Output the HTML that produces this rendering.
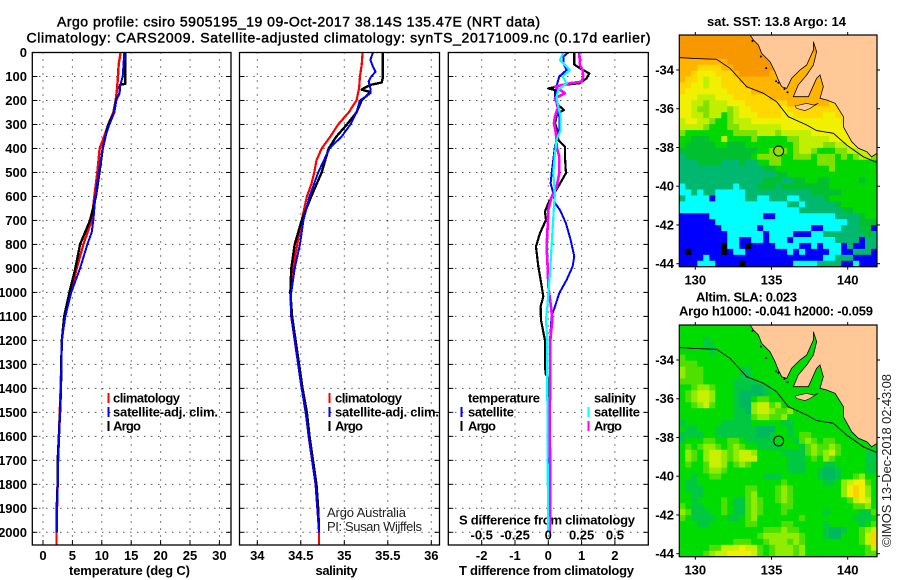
<!DOCTYPE html>
<html>
<head>
<meta charset="utf-8">
<title>Argo profile</title>
<style>
html,body{margin:0;padding:0;background:#fff;}
svg{display:block;}
text{font-family:"Liberation Sans",sans-serif;font-size:13px;font-weight:bold;fill:#000;}
.thin{font-weight:normal;fill:#222;}
.t{font-weight:normal;stroke:#000;stroke-width:.45px;}
</style>
</head>
<body>
<svg id="chart" xmlns="http://www.w3.org/2000/svg" width="900" height="580" viewBox="0 0 900 580">
<rect x="0" y="0" width="900" height="580" fill="#fff"/>
<text class="t" x="57" y="26.5" textLength="483" font-size="14" style="font-size:14px">Argo profile: csiro 5905195_19 09-Oct-2017 38.14S 135.47E (NRT data)</text>
<text class="t" x="26.5" y="42.5" textLength="624" style="font-size:14px">Climatology: CARS2009. Satellite-adjusted climatology: synTS_20171009.nc (0.17d earlier)</text>
<text x="69" y="575" textLength="121">temperature (deg C)</text>
<text x="315.5" y="575" textLength="42">salinity</text>
<text x="459" y="575" textLength="175">T difference from climatology</text>
<text x="459" y="524.5" textLength="176">S difference from climatology</text>
<text class="thin" x="327" y="517" textLength="79">Argo Australia</text>
<text class="thin" x="327" y="531" textLength="95">PI: Susan Wijffels</text>
<text x="707" y="26" textLength="139">sat. SST: 13.8 Argo: 14</text>
<text x="696" y="301.5" textLength="101">Altim. SLA: 0.023</text>
<text x="679" y="315.5" textLength="194">Argo h1000: -0.041 h2000: -0.059</text>
<text class="thin" transform="translate(891,547) rotate(-90)" x="0" y="0" textLength="173">©IMOS 13-Dec-2018 02:43:08</text>
<g id="layer"></g>
</svg>
<script>
// ---------- depth axis ----------
const depthTicks = [0,100,200,300,400,500,600,700,800,900,1000,1100,1200,1300,1400,1500,1600,1700,1800,1900,2000];
const tempTicks = [0,5,10,15,20,25,30];
const salTicks = [34,34.5,35,35.5,36];
const salTickLabels = ["34","34.5","35","35.5","36"];
const diffTTicks = [-2,-1,0,1,2];
const diffSTicks = [-0.5,-0.25,0,0.25,0.5];
const diffSTickLabels = ["-0.5","-0.25","0","0.25","0.5"];
const lonTicks = [130,135,140];
const latTicks = [-34,-36,-38,-40,-42,-44];

// ---------- temperature profiles ----------
const tempClimP = [0,50,100,150,200,250,300,350,400,500,600,700,800,900,1000,1100,1200,1400,1700,2000,2050];
const tempClimV = [13.2,12.87,12.75,12.6,12.36,11.96,11.1,10.4,9.64,9.24,8.73,8.28,6.86,5.73,4.7,3.7,3.2,3.0,2.55,2.3,2.3];
const tempArgoP = [0,100,130,135,170,200,250,300,400,500,600,700,800,900,1000,1100,1200,1300,1400,1500,1600,1700,1800,1900,2000];
const tempArgoV = [14,14,14,13.1,13,12.4,12.1,11.1,10.15,9.6,9,8,6.3,5.5,4.5,3.6,3.2,3.1,3.06,2.9,2.7,2.5,2.5,2.33,2.33];
const tempSatP = [0,50,100,150,170,200,250,300,350,400,500,600,700,750,800,900,1000,1100,1200,1400,1500,1600,1700,1800,1900,2000];
const tempSatV = [13.8,13.7,13.55,13,13,12.47,12.13,11.3,10.6,10.15,9.47,8.9,8.56,8.28,7.54,6.3,4.8,3.8,3.2,3.05,2.9,2.75,2.6,2.5,2.4,2.4];

// ---------- salinity profiles ----------
const salClimP = [0,50,100,150,200,250,300,350,400,450,500,550,600,700,800,900,1000,1100,1200,1300,1400,1500,1600,1700,1800,1900,2000,2050];
const salClimV = [35.21,35.2,35.18,35.17,35.14,35.05,34.93,34.84,34.74,34.68,34.655,34.62,34.57,34.51,34.46,34.41,34.38,34.39,34.43,34.47,34.51,34.56,34.59,34.63,34.67,34.69,34.71,34.71];
const salArgoP = [0,110,125,135,150,155,165,200,250,300,350,400,500,600,700,800,900,1000,1100,1200,1300,1400,1500,1600,1700,1800,1900,2000];
const salArgoV = [35.44,35.44,35.43,35.3,35.22,35.2,35.3,35.2,35.14,35.03,34.91,34.82,34.74,34.62,34.51,34.43,34.39,34.38,34.4,34.44,34.48,34.52,34.57,34.6,34.64,34.68,34.7,34.71];
const salSatP = [0,30,60,80,100,120,150,170,200,250,300,350,400,500,600,700,800,900,1000,1100,1200,1300,1400,1500,1600,1700,1800,1900,2000];
const salSatV = [35.33,35.3,35.33,35.36,35.31,35.28,35.3,35.3,35.18,35.14,35.07,34.97,34.83,34.7,34.6,34.53,34.49,34.43,34.39,34.39,34.43,34.47,34.51,34.555,34.59,34.63,34.67,34.69,34.71];

// ---------- difference profiles ----------
const dTArgoP = [0,50,66,87,108,128,135,150,157,184,219,240,253,295,323,365,392,434,503,559,587,628,663,698,753,809,892,948,1017,1059,1115,1200,1300,1340,1360,2000];
const dTArgoV = [0.78,0.78,0.95,1.23,1.15,0.95,0.45,0,0.2,0.2,0.3,0.47,0.27,0.2,0.27,0.3,0.5,0.5,0.53,0.3,0.17,0,-0.1,-0.07,-0.25,-0.37,-0.3,-0.23,-0.15,-0.23,-0.22,-0.1,-0.1,-0.08,0.02,0.02];
const dTSatP = [0,17,45,73,100,128,184,226,267,323,392,503,545,587,628,656,712,781,850,892,948,1003,1059,1100,1200,1400,2000];
const dTSatV = [0.6,0.45,0.45,0.55,0.33,0.27,0.2,0.27,0.33,0.33,0.2,0.1,0.07,0.15,0.2,0.35,0.53,0.67,0.78,0.73,0.55,0.33,0.2,0.1,0.05,0.05,0];
const dSArgoP = [0,52,73,100,122,128,142,170,191,226,267,295,337,392,434,503,559,601,656,725,809,892,975,1059,1115,1200,1400,1500,1800,1900,2000];
const dSArgoV = [0.2325,0.2375,0.2575,0.2625,0.25,0.1625,0.05,0.125,0.05,0.075,0.05,0.0425,0.0575,0.0625,0.0825,0.0825,0.0625,0.025,0,-0.005,-0.0125,-0.005,0,0.02,0.03,0.015,0.015,0.01,0.015,0.015,0.01];
const dSSatP = [0,31,52,73,100,128,156,184,226,267,323,364,420,503,587,642,781,920,1059,1115,1200,1400,1700,2000];
const dSSatV = [0.1125,0.0875,0.125,0.1625,0.1075,0.1375,0.075,0.0625,0.075,0.0925,0.0925,0.0625,0.05,0.0375,0.05,0.0425,0.0275,0.0125,-0.0075,-0.0175,-0.0075,-0.0075,-0.005,0];

// ---------- map data ----------
const sstColors = {k:"#000000",b:"#0000ff",c:"#00ffff",t:"#00b870",g:"#00c030",G:"#00d800",l:"#80e000",y:"#c0f000",Y:"#f0f000",o:"#ffd800",O:"#ffb400",R:"#f89800",r:"#ff0000"};
const slaColors = {t:"#00b860",g:"#00c840",G:"#00dc00",m:"#50e000",l:"#90ec00",y:"#c8f000",Y:"#f0f000",o:"#ffd000"};
const sstRows = [
"RRRRRRRRRRRRRRRRRRRRRRRRRRRRRRRRR",
"RRRRRRRRRRRRRRRRRRRRRRRRRRRRRRRRR",
"RRRRRRRRRRRRRRRRRRRRRRRRRRRRRRRRR",
"RRRRRRRRRRRRRRRRRRRRROOOOOOOOOOOO",
"OOOOOOOORRRRRRRRRROOOOOOrOOOOOOOO",
"OOOooooOORRRRRRRROOOOOOOOOOOOOOOO",
"OOoYYYoooORRRRROOOOOOOOOOOOOOOOOO",
"OooYyYYoooOOOOOOOOOOOOOOOOOOOOOOO",
"ooYYyYYooooOOOOOOOOOOOOOOOOOOOOOO",
"oYYYYYYYooooOOOOOOOOOOOOOoooooooo",
"YYYyyyYYYooooooOOOOOOOOOOoooooooo",
"YYyylyyyYYYoooooooOOOOOOOoooooooo",
"YYyllyyylyYYoooooYoooooooooooooo",
"YYyylyyGlyYYYooooYYoooooYYooooooo",
"yYYyylGGlyyyYYYYYYYYYYYYYYYooooYY",
"yyyylGGGllyyyyyyyYYYYYYYYYYYoYYYY",
"lGGGGGGGGllllyyylyyyyyYYYYYYYYYYY",
"GGgggGGyGGGGlGGGGGllyyyyyYYYYYYYY",
"GgggggGGgggGGGGGGGGlyyyyllyyYYYYY",
"gggggggggggggGGlllGlyylGGGllyyyyy",
"tgggggggggggGllllGGlllGlllGlGlyyl",
"tttggggtttgttGGllGGGGGGlllGGGGGGG",
"ttttttttttttttggGGGGGGGGGlGGGGGGG",
"ttttttttttttttttggGGGGGGGGGGGGGGG",
"ttttttttttttttgggttggGGggGGGGGgGG",
"cttttttttctttgggtggggggggGGGGGGGG",
"cctcttccccctttttttttttgggggGGGGGG",
"tccccbcccccttcctttccttttgGGGGGGGG",
"ccccccccccccccccccttctttttgGGGGGG",
"cccccccccccccccccccctttttttggGGGG",
"bbbbbcccccccccbbccccccccccttttgGG",
"bbbbbbccccccccccccccccccccccttggg",
"bbbbbbbccccccbccccccccbbccctttggb",
"bbbbbbbbccccccbccccbbbcctttttttgt",
"bbbbbbbbccbbccbcccbcccccccttttbtt",
"bbbbbbbkccbkbbbbccccbbcbcccbtbbtt",
"bkbbbbbkbccbbbbbbbcbcbbbbccbbtttb",
"bbbbcbbbbbbbbbbbbbbbbbbbcctttbbbb",
"bbbcccbbbbkbbbbbbbbccccttttbbcbbb"
];
const slaRows = [
"GGGGGGGGGGGGGGGGGGGGGGGGGGGGGGGGG",
"GGGGGGGGGGGGGGGGGGGGGGGGGGGGGGGGG",
"GGGGgGGGGGGGGGGGGGGGGGGGGGGGGGGGG",
"GGGGggGGGGGGGGGGGGGGGGGGGGGGGGGGG",
"GGGGGgGGGGGGGGGGGGGGGGGGGGGGGGGGG",
"mGGGGGGGGGGGGGGGGGGGGGGGGGGGGGGGG",
"mmmGGGGGGGGGGGGGGGGGGGGGGGGGGGGGG",
"lmmmGGGGGGggGGGGGGGGGGGGGGGGGGGGG",
"lmmmGGGGGGggGGGGGGGGGGGGGGGGGGGGG",
"mmmmGGGGGggggGGGGGGGGGGGGGGGGGGGG",
"GGmllmGGGgggttgGGGGGGGGGGGGGGGGGG",
"GmlyylGGGgttttgGGGGGGGGGGGGGGGGGG",
"GmlyylGGGgttGmmGGGGGGGGGGGGGGGGGG",
"GGmlymGGGgttlyymlGGGGGGGGGGGGGGGG",
"GGGGGGGGGggtlyylmmlGGGGGGGGGGGGGG",
"GGGGGGGGGgggmllmmlGGGGGGGGGGGGGGG",
"gGGGGGGgggggGGGGGggGGGGGGGGGGGGGG",
"GggGGGgggggggtttGGgGGGGGGGGGGGGGG",
"ggggGGgggggggttgGGgGmmGGGGGGGGGGG",
"gGGGmmGGmmGgggggGGGgmlmGmmGGGGGGG",
"GmGmllmGmlmGGggggGGGgmlmmlmGGGGGG",
"GlmGlyylmlyylGGGGggggmlmlymGGGGgg",
"GlmGlyylmlyyyGGGGGgggGmGlmGGGGGgg",
"GmGGmyylGmlmGGGGGGgggGGGggGGGGGgg",
"GGGGmllmGGGGGGGGGGgggGGgttgGGGGgg",
"GGgGGmmGGGGGGGgggGGGGGGgttgGGmlGG",
"GggGGGGGGGGGGGGGGmGGGGGGggGlyYYmG",
"GgggGGGGGGGmmGGGmlmGGGGGGGGlYoYlG",
"GGggGGGGGGGmlGGGmlmGGGGGGGGlYoYlG",
"GGgGGGGmGggmlmGGmlmGGGGGGGGGmyYyG",
"mGggGGGmGggmlmGGGmmGGGGGGGGGGmmlG",
"lmgggGGmGggmlmGGGmGGGGGGgGGGGGggm",
"mGggggGGggGmlGGGGGGGmGGGGGGGGgggG",
"GGGggGGGGGGmmGGGGmmGGGGGgGGGGGgGm",
"GGGGGGGGGGGGGGmmmlmmGGGGgttgGGmly",
"GGGGGGGGGGGGGmllllllmGGGgttGGGmyo",
"GGGGGGGGGmmmGGmlllmlmGGGGGGGGGmyo",
"GGGGGmmyyyYyymGmlllmlGGGGGGGGGGmy",
"GGGGmlyyYYYYymGmlllmlGGGGGGGGGGmm"
];
const coastLon = [133.59,133.81,134.14,134.35,134.9,135.23,135.45,135.67,136,136.32,136.87,137.31,137.75,137.75,137.96,137.75,137.31,136.76,136.43,137.42,137.96,138.18,138.4,138.18,138.62,139.17,139.72,139.72,140.26,140.7,141.25,141.57,141.92,141.92];
const coastLat = [-32.19,-32.45,-32.71,-33.14,-33.57,-34.09,-34.52,-34.86,-34.95,-34.43,-34,-33.74,-32.97,-32.54,-33.05,-33.74,-34.26,-34.77,-35.38,-35.38,-34.43,-34.26,-34.86,-35.46,-35.55,-35.72,-36.41,-36.93,-37.7,-38.04,-38.22,-38.48,-38.3,-32.19];
const islandLon = [136.54,137.31,137.75,138.07,137.53,137.2,136.65];
const islandLat = [-35.86,-35.72,-35.81,-35.72,-35.98,-36.1,-35.98];
const shelfLon = [128.96,129.87,131.4,132.28,133.37,134.46,135.34,136.1,137.31,137.96,139.06,139.93,141.03,141.92];
const shelfLat = [-33.36,-33.4,-33.45,-33.91,-34.86,-35.2,-35.64,-36.41,-36.84,-37.13,-37.27,-37.87,-38.48,-38.78];
const isletLon = [135.3,135.45,135.85,136.05,134.65,134.3,133.75];
const isletLat = [-34.58,-34.66,-34.98,-35.15,-33.9,-33.3,-32.5];
const floatLon = 135.47;
const floatLat = -38.14;

// ---------- axis functions ----------
const NS = "http://www.w3.org/2000/svg";
const layer = document.getElementById("layer");
const yP = p => 52.5 + p * 0.2399;
const xT = v => 43 + v * 5.88;
const xS = v => 257.3 + (v - 34) * 87;
const xD = v => 548.3 + v * 33.3;
const xDS = v => 548.3 + v * 133.2;
const mapX = lon => 695.3 + (lon - 130) * 15.24;
const mapY = (lat, top) => top + 70 + (-34 - lat) * 19.37;

function make(tag, parent) {
  const el = document.createElementNS(NS, tag);
  parent.appendChild(el);
  return el;
}
function label(str, x, y, anchor, name, size) {
  const el = make("text", layer);
  
  
  el.setAttribute("x", x);
  el.setAttribute("y", y);
  el.setAttribute("text-anchor", anchor);
  if (size) el.style.fontSize = size + "px";
  el.textContent = str;
  return el;
}
function seg(x1, y1, x2, y2, name, dash, w) {
  const el = make("line", layer);
  
  
  el.setAttribute("x1", x1);
  el.setAttribute("y1", y1);
  el.setAttribute("x2", x2);
  el.setAttribute("y2", y2);
  el.setAttribute("stroke", "#000");
  el.setAttribute("stroke-width", w || 1);
  if (dash) el.setAttribute("stroke-dasharray", dash);
  return el;
}
function series(ps, vs, xf, color, width, name) {
  const el = make("polyline", layer);
  
  
  el.setAttribute("points", ps.map((p, i) => xf(vs[i]).toFixed(2) + "," + yP(p).toFixed(2)).join(" "));
  el.setAttribute("fill", "none");
  el.setAttribute("stroke", color);
  el.setAttribute("stroke-width", width);
  el.setAttribute("stroke-linejoin", "round");
  el.setAttribute("shape-rendering", "crispEdges");
  return el;
}
function swatch(x, y, color, name) {
  const el = make("rect", layer);
  
  
  el.setAttribute("x", x);
  el.setAttribute("y", y - 5);
  el.setAttribute("width", 2);
  el.setAttribute("height", 10);
  el.setAttribute("fill", color);
}

const panelTop = 52.5, panelBottom = 545;

function panelGrid(left, right, vx) {
  depthTicks.forEach(p => {
    seg(left, yP(p), right, yP(p), "depth-gridline", "1 6");
    seg(left, yP(p), left + 5, yP(p), "depth-tick-left");
    seg(right - 5, yP(p), right, yP(p), "depth-tick-right");
  });
  vx.forEach(x => {
    seg(x, panelTop, x, panelBottom, "vertical-gridline", "1 6");
    seg(x, panelBottom - 5, x, panelBottom, "x-tick");
  });
}
function panelFrame(left, right, name) {
  const el = make("rect", layer);
  
  
  el.setAttribute("x", left);
  el.setAttribute("y", panelTop);
  el.setAttribute("width", right - left);
  el.setAttribute("height", panelBottom - panelTop);
  el.setAttribute("fill", "none");
  el.setAttribute("stroke", "#000");
  el.setAttribute("stroke-width", 1.3);
}

// temperature panel
panelGrid(32.3, 231, tempTicks.map(xT));
series(tempClimP, tempClimV, xT, "#ff0000", 2.4, "temperature-climatology-line");
series(tempArgoP, tempArgoV, xT, "#000000", 2.4, "temperature-argo-line");
series(tempSatP, tempSatV, xT, "#0000ff", 2, "temperature-satellite-line");
panelFrame(32.3, 231, "temperature-panel-frame");
depthTicks.forEach(p => label(String(p), 27, yP(p) + 4.5, "end", "depth-tick-label"));
tempTicks.forEach(v => label(String(v), xT(v), 560, "middle", "temperature-tick-label"));

// salinity panel
panelGrid(239.5, 439.5, salTicks.map(xS));
series(salClimP, salClimV, xS, "#ff0000", 2.2, "salinity-climatology-line");
series(salArgoP, salArgoV, xS, "#000000", 2.4, "salinity-argo-line");
series(salSatP, salSatV, xS, "#0000ff", 2, "salinity-satellite-line");
panelFrame(239.5, 439.5, "salinity-panel-frame");
salTicks.forEach((v, i) => label(salTickLabels[i], xS(v), 560, "middle", "salinity-tick-label"));

// difference panel
panelGrid(448.3, 648.3, diffTTicks.map(xD));
series(dTArgoP, dTArgoV, xD, "#000000", 2.2, "t-diff-argo-line");
series(dTSatP, dTSatV, xD, "#0000ff", 2, "t-diff-satellite-line");
series(dSArgoP, dSArgoV, xDS, "#ff00ff", 2.6, "s-diff-argo-line");
series(dSSatP, dSSatV, xDS, "#00ffff", 2.2, "s-diff-satellite-line");
panelFrame(448.3, 648.3, "difference-panel-frame");
diffTTicks.forEach(v => label(String(v), xD(v), 560, "middle", "t-diff-tick-label"));
diffSTicks.forEach((v, i) => label(diffSTickLabels[i], xDS(v), 539.5, "middle", "s-diff-tick-label"));

// legends
swatch(107.5, 398, "#ff0000", "legend-swatch-climatology");
label("climatology", 113, 402.5, "start", "legend-entry-climatology").setAttribute("textLength", 67);
swatch(107.5, 412, "#0000ff", "legend-swatch-satellite");
label("satellite-adj. clim.", 113, 416.5, "start", "legend-entry-satellite").setAttribute("textLength", 105);
swatch(107.5, 426, "#000000", "legend-swatch-argo");
label("Argo", 113, 430.5, "start", "legend-entry-argo").setAttribute("textLength", 28);
swatch(328.5, 398, "#ff0000", "legend-swatch-climatology");
label("climatology", 335, 402.5, "start", "legend-entry-climatology").setAttribute("textLength", 67);
swatch(328.5, 412, "#0000ff", "legend-swatch-satellite");
label("satellite-adj. clim.", 335, 416.5, "start", "legend-entry-satellite").setAttribute("textLength", 104);
swatch(328.5, 426, "#000000", "legend-swatch-argo");
label("Argo", 335, 430.5, "start", "legend-entry-argo").setAttribute("textLength", 28);
label("temperature", 468, 402.5, "start", "legend-heading-temperature").setAttribute("textLength", 72);
swatch(460.5, 412, "#0000ff", "legend-swatch-t-satellite");
label("satellite", 468, 416.5, "start", "legend-entry-t-satellite").setAttribute("textLength", 46);
swatch(460.5, 426, "#000000", "legend-swatch-t-argo");
label("Argo", 468, 430.5, "start", "legend-entry-t-argo").setAttribute("textLength", 28);
label("salinity", 594, 402.5, "start", "legend-heading-salinity").setAttribute("textLength", 42);
swatch(587.5, 412, "#00ffff", "legend-swatch-s-satellite");
label("satellite", 594, 416.5, "start", "legend-entry-s-satellite").setAttribute("textLength", 46);
swatch(587.5, 426, "#ff00ff", "legend-swatch-s-argo");
label("Argo", 594, 430.5, "start", "legend-entry-s-argo").setAttribute("textLength", 28);

// maps
function geoPoints(lons, lats, top) {
  return lons.map((lon, i) => mapX(lon).toFixed(1) + "," + mapY(lats[i], top).toFixed(1)).join(" ");
}
function drawMap(rows, colors, top, prefix) {
  const L = 679.3, W = 197.7, T = top + 35, H = 231.7;
  const cw = W / 33, ch = H / rows.length;
  rows.forEach((row, r) => {
    for (let c = 0; c < 33; c++) {
      const key = row[c] || row[row.length - 1];
      const cell = make("rect", layer);
      
      
      cell.setAttribute("x", (L + c * cw).toFixed(2));
      cell.setAttribute("y", (T + r * ch).toFixed(2));
      cell.setAttribute("width", (cw + 0.4).toFixed(2));
      cell.setAttribute("height", (ch + 0.4).toFixed(2));
      cell.setAttribute("fill", colors[key] || "#00d800");
    }
  });
  const land = make("polygon", layer);
  
  
  land.setAttribute("points", geoPoints(coastLon, coastLat, top));
  land.setAttribute("fill", "#ffc896");
  land.setAttribute("stroke", "#000");
  land.setAttribute("stroke-width", 0.8);
  const island = make("polygon", layer);
  
  
  island.setAttribute("points", geoPoints(islandLon, islandLat, top));
  island.setAttribute("fill", "#ffc896");
  island.setAttribute("stroke", "#000");
  island.setAttribute("stroke-width", 0.6);
  isletLon.forEach((lon, i) => {
    const dot = make("circle", layer);
    
    
    dot.setAttribute("cx", mapX(lon));
    dot.setAttribute("cy", mapY(isletLat[i], top));
    dot.setAttribute("r", 1);
    dot.setAttribute("fill", "#000");
  });
  const shelf = make("polyline", layer);
  
  
  shelf.setAttribute("points", geoPoints(shelfLon, shelfLat, top));
  shelf.setAttribute("fill", "none");
  shelf.setAttribute("stroke", "#000");
  shelf.setAttribute("stroke-width", 0.9);
  const marker = make("circle", layer);
  
  
  marker.setAttribute("cx", mapX(floatLon));
  marker.setAttribute("cy", mapY(floatLat, top) + 0.8);
  marker.setAttribute("r", 5);
  marker.setAttribute("fill", prefix === "sst" ? "#90e000" : "none");
  marker.setAttribute("stroke", "#000");
  marker.setAttribute("stroke-width", 1);
  const frame = make("rect", layer);
  
  
  frame.setAttribute("x", L);
  frame.setAttribute("y", T);
  frame.setAttribute("width", W);
  frame.setAttribute("height", H);
  frame.setAttribute("fill", "none");
  frame.setAttribute("stroke", "#000");
  frame.setAttribute("stroke-width", 1.2);
  lonTicks.forEach(lon => {
    seg(mapX(lon), T - 3, mapX(lon), T, prefix + "-lon-tick-top");
    seg(mapX(lon), T + H, mapX(lon), T + H + 3, prefix + "-lon-tick-bottom");
    label(String(lon), mapX(lon), T + H + 18, "middle", prefix + "-lon-label");
  });
  latTicks.forEach(lat => {
    seg(L - 3, mapY(lat, top), L, mapY(lat, top), prefix + "-lat-tick-left");
    seg(L + W, mapY(lat, top), L + W + 3, mapY(lat, top), prefix + "-lat-tick-right");
    label(String(lat), 674, mapY(lat, top) + 4.5, "end", prefix + "-lat-label");
  });
}
drawMap(sstRows, sstColors, 0, "sst");
drawMap(slaRows, slaColors, 290, "sla");
</script>
</body>
</html>
